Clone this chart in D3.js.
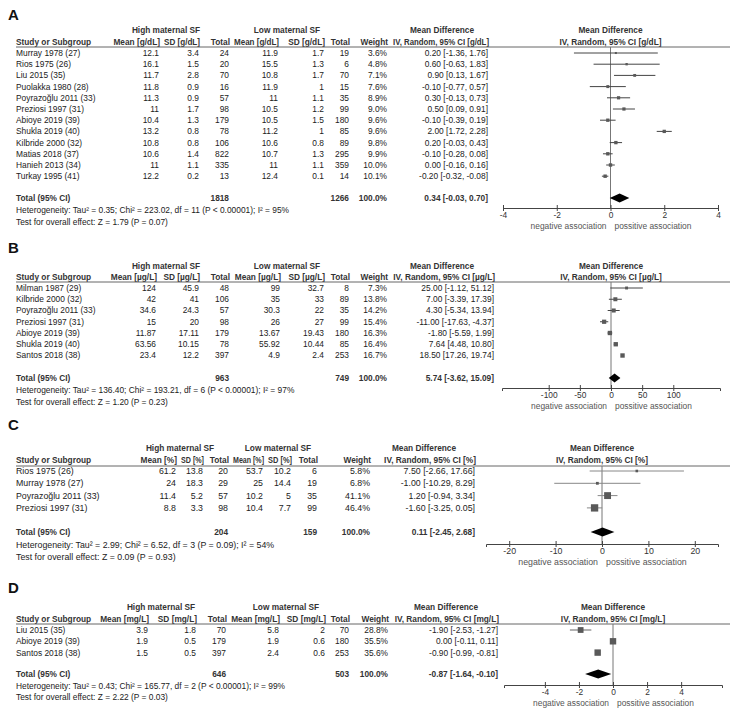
<!DOCTYPE html>
<html>
<head>
<meta charset="utf-8">
<script src="https://cdn.jsdelivr.net/npm/d3@7"></script>
<style>
  body { margin: 0; background: #fff; }
  text { font-family: "Liberation Sans", Arial, sans-serif; fill: #222; }
</style>
</head>
<body>
<svg id="chart" width="736" height="712"></svg>
<script>
// ---- panel A : haemoglobin [g/dL]
const studiesA = ["Murray 1978 (27)", "Rios 1975 (26)", "Liu 2015 (35)", "Puolakka 1980 (28)", "Poyrazoğlu 2011 (33)", "Preziosi 1997 (31)", "Abioye 2019 (39)", "Shukla 2019 (40)", "Kilbride 2000 (32)", "Matias 2018 (37)", "Hanieh 2013 (34)", "Turkay 1995 (41)"]
const highA = [[12.1, 3.4, 24], [16.1, 1.5, 20], [11.7, 2.8, 70], [11.8, 0.9, 16], [11.3, 0.9, 57], [11, 1.7, 98], [10.4, 1.3, 179], [13.2, 0.8, 78], [10.8, 0.8, 106], [10.6, 1.4, 822], [11, 1.1, 335], [12.2, 0.2, 13]]
const lowA = [[11.9, 1.7, 19], [15.5, 1.3, 6], [10.8, 1.7, 70], [11.9, 1, 15], [11, 1.1, 35], [10.5, 1.2, 99], [10.5, 1.5, 180], [11.2, 1, 85], [10.6, 0.8, 89], [10.7, 1.3, 295], [11, 1.1, 359], [12.4, 0.1, 14]]
const weightA = [3.6, 4.8, 7.1, 7.6, 8.9, 9.0, 9.6, 9.6, 9.8, 9.9, 10.0, 10.1]
const mdA = [[0.20, -1.36, 1.76], [0.60, -0.63, 1.83], [0.90, 0.13, 1.67], [-0.10, -0.77, 0.57], [0.30, -0.13, 0.73], [0.50, 0.09, 0.91], [-0.10, -0.39, 0.19], [2.00, 1.72, 2.28], [0.20, -0.03, 0.43], [-0.10, -0.28, 0.08], [0.00, -0.16, 0.16], [-0.20, -0.32, -0.08]]
const totalA = [1818, 1266]
const pooledA = [0.34, -0.03, 0.70]
const ticksA = [-4, -2, 0, 2, 4]
const hetA = "Heterogeneity: Tau² = 0.35; Chi² = 223.02, df = 11 (P < 0.00001); I² = 95%"
const testA = "Test for overall effect: Z = 1.79 (P = 0.07)"

// ---- panel B : ferritin [µg/L]
const studiesB = ["Milman 1987 (29)", "Kilbride 2000 (32)", "Poyrazoğlu 2011 (33)", "Preziosi 1997 (31)", "Abioye 2019 (39)", "Shukla 2019 (40)", "Santos 2018 (38)"]
const highB = [[124, 45.9, 48], [42, 41, 106], [34.6, 24.3, 57], [15, 20, 98], [11.87, 17.11, 179], [63.56, 10.15, 78], [23.4, 12.2, 397]]
const lowB = [[99, 32.7, 8], [35, 33, 89], [30.3, 22, 35], [26, 27, 99], [13.67, 19.43, 180], [55.92, 10.44, 85], [4.9, 2.4, 253]]
const weightB = [7.3, 13.8, 14.2, 15.4, 16.3, 16.4, 16.7]
const mdB = [[25.00, -1.12, 51.12], [7.00, -3.39, 17.39], [4.30, -5.34, 13.94], [-11.00, -17.63, -4.37], [-1.80, -5.59, 1.99], [7.64, 4.48, 10.80], [18.50, 17.26, 19.74]]
const totalB = [963, 749]
const pooledB = [5.74, -3.62, 15.09]
const ticksB = [-100, -50, 0, 50, 100]
const hetB = "Heterogeneity: Tau² = 136.40; Chi² = 193.21, df = 6 (P < 0.00001); I² = 97%"
const testB = "Test for overall effect: Z = 1.20 (P = 0.23)"

// ---- panel C : transferrin saturation [%]
const studiesC = ["Rios 1975 (26)", "Murray 1978 (27)", "Poyrazoğlu 2011 (33)", "Preziosi 1997 (31)"]
const highC = [[61.2, 13.8, 20], [24, 18.3, 29], [11.4, 5.2, 57], [8.8, 3.3, 98]]
const lowC = [[53.7, 10.2, 6], [25, 14.4, 19], [10.2, 5, 35], [10.4, 7.7, 99]]
const weightC = [5.8, 6.8, 41.1, 46.4]
const mdC = [[7.50, -2.66, 17.66], [-1.00, -10.29, 8.29], [1.20, -0.94, 3.34], [-1.60, -3.25, 0.05]]
const totalC = [204, 159]
const pooledC = [0.11, -2.45, 2.68]
const ticksC = [-20, -10, 0, 10, 20]
const hetC = "Heterogeneity: Tau² = 2.99; Chi² = 6.52, df = 3 (P = 0.09); I² = 54%"
const testC = "Test for overall effect: Z = 0.09 (P = 0.93)"

// ---- panel D : [mg/L]
const studiesD = ["Liu 2015 (35)", "Abioye 2019 (39)", "Santos 2018 (38)"]
const highD = [[3.9, 1.8, 70], [1.9, 0.5, 179], [1.5, 0.5, 397]]
const lowD = [[5.8, 2, 70], [1.9, 0.6, 180], [2.4, 0.6, 253]]
const weightD = [28.8, 35.5, 35.6]
const mdD = [[-1.90, -2.53, -1.27], [0.00, -0.11, 0.11], [-0.90, -0.99, -0.81]]
const totalD = [646, 503]
const pooledD = [-0.87, -1.64, -0.10]
const ticksD = [-4, -2, 0, 2, 4]
const hetD = "Heterogeneity: Tau² = 0.43; Chi² = 165.77, df = 2 (P < 0.00001); I² = 99%"
const testD = "Test for overall effect: Z = 2.22 (P = 0.03)"

const svg = d3.select("#chart")

// square side grows with the study weight
const boxSize = d3.scaleSqrt().domain([0, 50]).range([0, 7.6])

const headSize = 8.3

function drawPanel(L, d) {

  let g = svg.append("g")
  let fs = L.fs

  function txt(x, y, s, anchor, bold, maxWidth) {
    let t = g.append("text")
             .attr("x", x)
             .attr("y", y)
             .attr("dy", "0.35em")
             .attr("text-anchor", anchor || "start")
             .style("font-size", (bold ? headSize : fs) + "px")
             .style("font-weight", bold ? "bold" : null)
             .style("fill", bold ? "#333" : null)
             .text(s)
    // squeeze a header that would run into its neighbour
    if (maxWidth && t.node().getComputedTextLength() > maxWidth) {
      t.attr("textLength", maxWidth).attr("lengthAdjust", "spacingAndGlyphs")
    }
    return t
  }

  g.append("text")
   .attr("x", 8)
   .attr("y", L.label)
   .attr("dy", "0.35em")
   .style("font-size", "15px")
   .style("font-weight", "bold")
   .style("fill", "#111")
   .text(d.name)

  let y = d3.scaleLinear().domain([0, 1]).range([L.row0, L.row0 + L.step])
  let x = d3.scaleLinear().domain(L.domain).range(L.range)
  let c = L.cols

  // headers
  txt(L.high, L.group, "High maternal SF", "middle", true)
  txt(L.low, L.group, "Low maternal SF", "middle", true)
  txt(L.mdHead, L.group, "Mean Difference", "middle", true)
  txt(x(0), L.group, "Mean Difference", "middle", true)

  let heads = ["Mean [" + d.unit + "]", "SD [" + d.unit + "]", "Total", "Mean [" + d.unit + "]", "SD [" + d.unit + "]", "Total"]
  txt(16, L.head, "Study or Subgroup", "start", true)
  heads.forEach(function(h, i) {
    let left = i == 0 ? 96 : c[i - 1] + 5
    txt(c[i] + 1, L.head, h, "end", true, c[i] + 1 - left)
  })
  txt(L.weight + 1, L.head, "Weight", "end", true, L.weight - c[5] - 4)
  txt(L.md + 1, L.head, "IV, Random, 95% CI [" + d.unit + "]", "end", true, L.md - L.weight - 5)
  txt(x(0), L.head, "IV, Random, 95% CI [" + d.unit + "]", "middle", true)

  g.append("line")
   .attr("x1", 16).attr("x2", 730)
   .attr("y1", L.rule).attr("y2", L.rule)
   .style("stroke", "#666").style("stroke-width", 1)

  // table rows
  d.studies.forEach(function(s, i) {
    let yy = y(i)
    let vals = d.high[i].concat(d.low[i])
    txt(16, yy, s)
    vals.forEach(function(v, j) { txt(c[j], yy, String(v), "end") })
    txt(L.weight, yy, d.weight[i].toFixed(1) + "%", "end")
    let m = d.md[i]
    txt(L.md, yy, m[0].toFixed(2) + " [" + m[1].toFixed(2) + ", " + m[2].toFixed(2) + "]", "end")
  })

  // total rows
  let p = d.pooled
  txt(16, L.total, "Total (95% CI)", "start", true)
  txt(c[2], L.total, String(d.total[0]), "end", true)
  txt(c[5], L.total, String(d.total[1]), "end", true)
  txt(L.weight, L.total, "100.0%", "end", true)
  txt(L.md, L.total, p[0].toFixed(2) + " [" + p[1].toFixed(2) + ", " + p[2].toFixed(2) + "]", "end", true)
  txt(16, L.het, d.het)
  txt(16, L.test, d.test)

  // forest plot
  g.append("line")
   .attr("x1", x(0)).attr("x2", x(0))
   .attr("y1", L.rule).attr("y2", L.axis)
   .style("stroke", "#777").style("stroke-width", 1)

  let rows = g.selectAll(".study")
              .data(d.md)
              .enter()
              .append("g")
              .attr("class", "study")

  rows.append("line")
      .attr("x1", function(m) { return x(m[1]) })
      .attr("x2", function(m) { return x(m[2]) })
      .attr("y1", function(m, i) { return y(i) })
      .attr("y2", function(m, i) { return y(i) })
      .style("stroke", L.ciColour)
      .style("stroke-width", 1)

  rows.append("rect")
      .attr("x", function(m, i) { return x(m[0]) - Math.max(2, boxSize(d.weight[i])) / 2 })
      .attr("y", function(m, i) { return y(i) - Math.max(2, boxSize(d.weight[i])) / 2 })
      .attr("width", function(m, i) { return Math.max(2, boxSize(d.weight[i])) })
      .attr("height", function(m, i) { return Math.max(2, boxSize(d.weight[i])) })
      .style("fill", "#595959")

  g.append("path")
   .attr("d", "M" + x(p[1]) + "," + L.total + "L" + x(p[0]) + "," + (L.total - 4.5) +
              "L" + x(p[2]) + "," + L.total + "L" + x(p[0]) + "," + (L.total + 4.5) + "Z")
   .style("fill", "#000")

  let axis = g.append("g")
              .attr("transform", "translate(0," + L.axis + ")")
              .call(d3.axisBottom(x).tickValues(d.ticks).tickSizeOuter(0).tickSize(3).tickPadding(1))

  axis.select(".domain").style("stroke", "#444")
  axis.selectAll(".tick line").attr("y1", -3).attr("y2", 3).style("stroke", "#444")
  axis.selectAll(".tick text")
      .style("font-size", fs + "px")
      .style("font-family", "Liberation Sans, Arial, sans-serif")
      .style("fill", "#333")
      .text(function(v) { return String(v) })

  txt(x(0) - 4, L.axis + 18, "negative association", "end").style("fill", "#555")
  txt(x(0) + 4, L.axis + 18, "possitive association", "start").style("fill", "#555")

}

drawPanel(
  {fs: 8.4, label: 15, group: 30, head: 42, rule: 47, row0: 53, step: 11.2, total: 198, het: 210, test: 222, axis: 208,
   high: 166, low: 287, cols: [159, 199, 229, 278, 324, 349],
   weight: 387, mdHead: 442, md: 488, domain: [-4, 4], range: [503, 718], ciColour: "#444"},
  {name: "A", unit: "g/dL", studies: studiesA, high: highA, low: lowA, weight: weightA, md: mdA,
   total: totalA, pooled: pooledA, ticks: ticksA, het: hetA, test: testA})

drawPanel(
  {fs: 8.4, label: 248, group: 266, head: 277, rule: 282, row0: 288, step: 11.25, total: 378, het: 390, test: 402, axis: 388,
   high: 166, low: 287, cols: [156, 199, 229, 280, 324, 349],
   weight: 387, mdHead: 442, md: 494, domain: [-175, 175], range: [502, 720], ciColour: "#444"},
  {name: "B", unit: "µg/L", studies: studiesB, high: highB, low: lowB, weight: weightB, md: mdB,
   total: totalB, pooled: pooledB, ticks: ticksB, het: hetB, test: testB})

drawPanel(
  {fs: 8.8, label: 425, group: 448, head: 460, rule: 466, row0: 471, step: 12.3, total: 532, het: 545, test: 557, axis: 544,
   high: 180, low: 278, cols: [176, 203, 228, 263, 291, 317],
   weight: 370, mdHead: 424, md: 475, domain: [-25, 25], range: [486, 718], ciColour: "#888"},
  {name: "C", unit: "%", studies: studiesC, high: highC, low: lowC, weight: weightC, md: mdC,
   total: totalC, pooled: pooledC, ticks: ticksC, het: hetC, test: testC})

drawPanel(
  {fs: 8.4, label: 588, group: 607, head: 619, rule: 624, row0: 630, step: 11.3, total: 674, het: 686, test: 697, axis: 685,
   high: 161, low: 286, cols: [148, 196, 226, 279, 325, 349],
   weight: 388, mdHead: 446, md: 498, domain: [-6.4, 6.4], range: [504, 722], ciColour: "#666"},
  {name: "D", unit: "mg/L", studies: studiesD, high: highD, low: lowD, weight: weightD, md: mdD,
   total: totalD, pooled: pooledD, ticks: ticksD, het: hetD, test: testD})
</script>
</body>
</html>
